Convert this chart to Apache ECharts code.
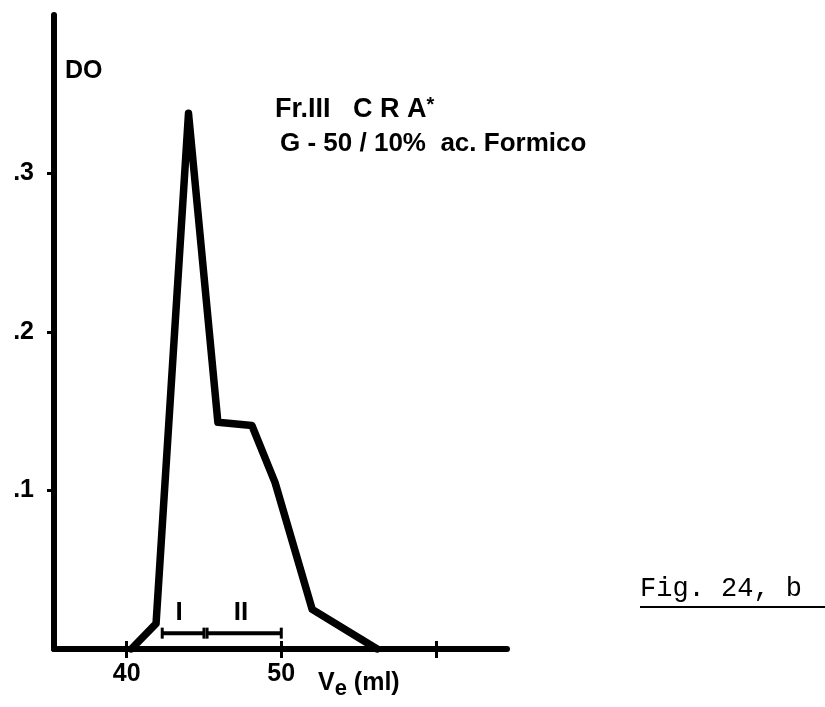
<!DOCTYPE html>
<html>
<head>
<meta charset="utf-8">
<script src="https://cdn.jsdelivr.net/npm/echarts@6/dist/echarts.min.js"></script>
<style>
html,body{margin:0;padding:0;background:#fff;}
#chart{width:825px;height:707px;}
</style>
</head>
<body>
<div id="chart"></div>
<script>
// Elution volume (ml) and optical density (DO)
var veValues = [40.3, 41.9, 44.0, 45.9, 48.1, 49.6, 52.0, 56.2];
var doValues = [0, 0.016, 0.338, 0.143, 0.141, 0.105, 0.025, 0];
// Fraction brackets
var fracNames = ['I', 'II'];
var fracStart = [42.3, 45.2];
var fracEnd = [45.0, 50.0];
var fracLevel = 0.01;
var fracLabelX = [43.4, 47.4];
var fracLabelY = 0.023;
// Axis ticks
var xTicks = [40, 50, 60];
var xTickLabels = [40, 50];
var yTicks = [0.1, 0.2, 0.3];

var FONT = 'Liberation Sans';
var chart = echarts.init(document.getElementById('chart'), null, {renderer: 'canvas'});

var lineData = veValues.map(function (v, i) { return [v, doValues[i]]; });
var bracketSeries = fracNames.map(function (n, i) {
  return {
    type: 'line', name: 'frac' + n,
    data: [[fracStart[i], fracLevel], [fracEnd[i], fracLevel]],
    symbol: 'rect', symbolSize: [3, 11], showSymbol: true,
    itemStyle: {color: '#000'},
    lineStyle: {color: '#000', width: 4},
    silent: true, z: 3
  };
});

var xMin = 35.3, xMax = 64.6;

chart.setOption({
  animation: false,
  backgroundColor: '#fff',
  grid: {left: 54, right: 318, top: 15, bottom: 58},
  xAxis: [{
    type: 'value', min: xMin, max: xMax,
    axisLine: {show: true, lineStyle: {color: '#000', width: 6, cap: 'round'}},
    axisTick: {show: true, customValues: xTicks, length: 9, lineStyle: {color: '#000', width: 3}},
    axisLabel: {show: true, customValues: xTickLabels, margin: 13,
      color: '#000', fontFamily: FONT, fontWeight: 'bold', fontSize: 25},
    splitLine: {show: false}
  }, {
    type: 'value', min: xMin, max: xMax, position: 'bottom',
    axisLine: {show: false},
    axisTick: {show: true, inside: true, customValues: xTicks, length: 8, lineStyle: {color: '#000', width: 3}},
    axisLabel: {show: false},
    splitLine: {show: false}
  }],
  yAxis: {
    type: 'value', min: 0, max: 0.4,
    axisLine: {show: true, lineStyle: {color: '#000', width: 6, cap: 'round'}},
    axisTick: {show: true, customValues: yTicks, length: 7, lineStyle: {color: '#000', width: 3}},
    axisLabel: {show: true, customValues: yTicks, margin: 20,
      color: '#000', fontFamily: FONT, fontWeight: 'bold', fontSize: 25,
      formatter: function (v) { return '.' + Math.round(v * 10); }},
    splitLine: {show: false}
  },
  series: [{
    type: 'line', name: 'DO',
    data: lineData,
    symbol: 'none', smooth: false,
    lineStyle: {color: '#000', width: 7.5, cap: 'round', join: 'round'},
    z: 4
  }].concat(bracketSeries).concat([{
    type: 'scatter', name: 'fracLabels',
    data: fracNames.map(function (n, i) { return {name: n, value: [fracLabelX[i], fracLabelY]}; }),
    symbolSize: 1,
    itemStyle: {color: '#fff', opacity: 1},
    label: {show: true, position: 'inside', formatter: '{b}',
      color: '#000', opacity: 1, fontFamily: FONT, fontWeight: 'bold', fontSize: 26},
    emphasis: {disabled: true},
    silent: true, z: 5
  }]),
  graphic: [
    {type: 'text', left: 65, top: 59,
      style: {text: 'DO', fill: '#000', font: 'bold 25px "Liberation Sans"'}},
    {type: 'text', left: 275, top: 95,
      style: {text: '{a|Fr.III   C R A}{s|*}', fill: '#000',
        rich: {a: {fontFamily: FONT, fontWeight: 'bold', fontSize: 27, fill: '#000'},
               s: {fontFamily: FONT, fontWeight: 'bold', fontSize: 20, verticalAlign: 'top', fill: '#000', padding: [0,0,10,0]}}}},
    {type: 'text', left: 280, top: 131,
      style: {text: 'G - 50 / 10%  ac. Formico', fill: '#000', font: 'bold 26px "Liberation Sans"'}},
    {type: 'text', left: 318, top: 671,
      style: {text: '{v|V}{e|e}{m| (ml)}', fill: '#000',
        rich: {v: {fontFamily: FONT, fontWeight: 'bold', fontSize: 25, fill: '#000'},
               e: {fontFamily: FONT, fontWeight: 'bold', fontSize: 22, fill: '#000', padding: [10,0,0,0]},
               m: {fontFamily: FONT, fontWeight: 'bold', fontSize: 25, fill: '#000'}}}},
    {type: 'text', left: 640, top: 575,
      style: {text: 'Fig. 24, b', fill: '#000', font: '27px "Liberation Mono"'}},
    {type: 'line', shape: {x1: 640, y1: 607, x2: 825, y2: 607},
      style: {stroke: '#000', lineWidth: 2}}
  ]
});
</script>
</body>
</html>
